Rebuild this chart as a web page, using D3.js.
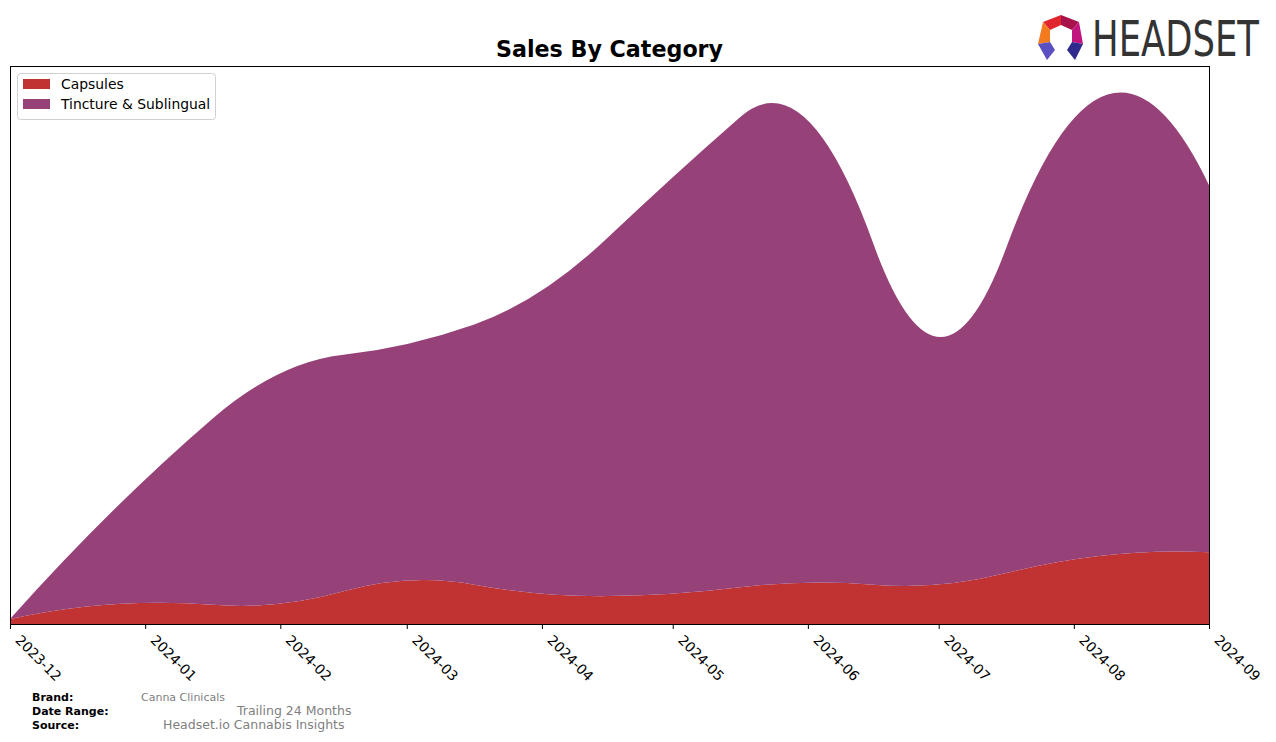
<!doctype html>
<html lang="en">
<head>
  <meta charset="utf-8">
  <title>Sales By Category</title>
  <style>
    body { margin: 0; background: #fff; }
    svg { display: block; font-family: "DejaVu Sans", sans-serif; }
  </style>
</head>
<body>
<div id="chart"></div>

<script src="https://cdnjs.cloudflare.com/ajax/libs/d3/7.8.5/d3.min.js"></script>
<script>

// data (no y axis shown, so units are arbitrary)
const months = ["2023-12", "2024-01", "2024-02", "2024-03", "2024-04", "2024-05", "2024-06", "2024-07", "2024-08", "2024-09"]
const capsules = [5, 21, 20, 43, 30, 30, 41, 39, 64, 71]
const tincture = [0, 122, 228, 234, 300, 412, 457, 245, 436, 363]
const categories = ["Capsules", "Tincture & Sublingual"]
const colors = ["#c13333", "#964178"]

const W = 1276, H = 742
const margin = { top: 66, right: 67, bottom: 118, left: 10 }
const w = W - margin.left - margin.right,
  h = H - margin.top - margin.bottom

const parse = d3.timeParse("%Y-%m")
const dates = months.map(parse)
const table = months.map((m, i) => ({ date: dates[i], "Capsules": capsules[i], "Tincture & Sublingual": tincture[i] }))

// small dense solver for the spline system
function solve(A, b) {
  const n = b.length
  A = A.map((r, i) => [...r, b[i]])
  for (let k = 0; k < n; k++) {
    let p = k
    for (let i = k + 1; i < n; i++) if (Math.abs(A[i][k]) > Math.abs(A[p][k])) p = i
    ;[A[k], A[p]] = [A[p], A[k]]
    for (let i = k + 1; i < n; i++) {
      const f = A[i][k] / A[k][k]
      for (let j = k; j <= n; j++) A[i][j] -= f * A[k][j]
    }
  }
  const x = new Array(n).fill(0)
  for (let i = n - 1; i >= 0; i--) {
    let s = A[i][n]
    for (let j = i + 1; j < n; j++) s -= A[i][j] * x[j]
    x[i] = s / A[i][i]
  }
  return x
}

// quadratic interpolating spline, knots at midpoints (like scipy make_interp_spline k=2)
function quadSpline(xs, ys) {
  const n = xs.length
  const mids = d3.pairs(xs, (a, b) => (a + b) / 2)
  const br = [xs[0], ...mids.slice(1, -1), xs[n - 1]]
  const m = br.length - 1
  const N = 3 * m
  const A = [], B = []
  const row = () => new Array(N).fill(0)
  const seg = x => Math.min(m - 1, Math.max(0, d3.bisectRight(br, x) - 1))
  xs.forEach((x, i) => {
    const j = seg(x), t = x - br[j], r = row()
    r[3 * j] = 1; r[3 * j + 1] = t; r[3 * j + 2] = t * t
    A.push(r); B.push(ys[i])
  })
  for (let j = 1; j < m; j++) {
    const d = br[j] - br[j - 1]
    let r = row()
    r[3 * (j - 1)] = 1; r[3 * (j - 1) + 1] = d; r[3 * (j - 1) + 2] = d * d; r[3 * j] = -1
    A.push(r); B.push(0)
    r = row()
    r[3 * (j - 1) + 1] = 1; r[3 * (j - 1) + 2] = 2 * d; r[3 * j + 1] = -1
    A.push(r); B.push(0)
  }
  const c = solve(A, B)
  const f = x => { const j = seg(x), t = x - br[j]; return c[3 * j] + c[3 * j + 1] * t + c[3 * j + 2] * t * t }
  return { br, c, f }
}

// d3 curve that draws the quadratic spline as quadratic beziers
function curveQuad(context) { return new QuadCurve(context) }
class QuadCurve {
  constructor(context) { this._context = context }
  areaStart() { this._line = 0 }
  areaEnd() { this._line = NaN }
  lineStart() { this._x = []; this._y = [] }
  point(x, y) { this._x.push(+x); this._y.push(+y) }
  lineEnd() {
    let xs = this._x, ys = this._y
    const n = xs.length, ctx = this._context
    if (n) {
      this._line ? ctx.lineTo(xs[0], ys[0]) : ctx.moveTo(xs[0], ys[0])
      if (n < 3) {
        for (let i = 1; i < n; i++) ctx.lineTo(xs[i], ys[i])
      } else {
        const rev = xs[0] > xs[n - 1]
        if (rev) { xs = xs.slice().reverse(); ys = ys.slice().reverse() }
        const s = quadSpline(xs, ys)
        let segs = d3.pairs(s.br).map(([a, b], j) => {
          const d = b - a, c0 = s.c[3 * j], c1 = s.c[3 * j + 1], c2 = s.c[3 * j + 2]
          return { a: [a, c0], ctl: [a + d / 2, c0 + c1 * d / 2], b: [b, c0 + c1 * d + c2 * d * d] }
        })
        if (rev) segs = segs.reverse().map(g => ({ a: g.b, ctl: g.ctl, b: g.a }))
        segs.forEach(g => ctx.quadraticCurveTo(g.ctl[0], g.ctl[1], g.b[0], g.b[1]))
      }
    }
    if (this._line || (this._line !== 0 && n === 1)) ctx.closePath()
    this._line = 1 - this._line
  }
}

const x = d3.scaleTime()
  .domain(d3.extent(dates))
  .range([0, w])

// matplotlib pads the top 5% above the smoothed peak
const totals = capsules.map((v, i) => v + tincture[i])
const fit = quadSpline(dates.map(x), totals)
const peak = d3.max(d3.range(0, w + 1, 1), px => fit.f(px))

const y = d3.scaleLinear()
  .domain([0, peak * 1.05])
  .range([h, 0])

const stack = d3.stack().keys(categories)
const series = stack(table)

const area = d3.area()
  .x(d => x(d.data.date))
  .y0(d => y(d[0]))
  .y1(d => y(d[1]))
  .curve(curveQuad)

const svg = d3.select("#chart").append("svg")
  .attr("width", W)
  .attr("height", H)

const g = svg.append("g")
  .attr("transform", "translate(" + margin.left + "," + margin.top + ")")

g.selectAll("path.layer")
  .data(series)
  .join("path")
    .attr("class", "layer")
    .attr("fill", (d, i) => colors[i])
    .attr("d", area)

// x axis
const xAxis = g.append("g")
  .attr("transform", "translate(0," + h + ")")
  .call(d3.axisBottom(x).tickValues(dates).tickFormat(d3.timeFormat("%Y-%m")).tickSize(5).tickPadding(0))

xAxis.select(".domain").remove()
xAxis.selectAll(".tick line").attr("stroke", "#000")
xAxis.selectAll(".tick text")
  .attr("fill", "#000")
  .attr("font-size", "13.9px")
  .attr("font-family", "DejaVu Sans")
  .attr("text-anchor", "start")
  .attr("y", 0)
  .attr("dy", 0)
  .attr("transform", "translate(4,17) rotate(45)")

// frame
g.append("rect")
  .attr("x", 0.5).attr("y", 0.5)
  .attr("width", w).attr("height", h)
  .attr("fill", "none")
  .attr("stroke", "#000")
  .attr("stroke-width", 1)

// title
svg.append("text")
  .attr("x", margin.left + w / 2)
  .attr("y", 57)
  .attr("text-anchor", "middle")
  .attr("font-size", "22.2px")
  .attr("font-weight", "bold")
  .text("Sales By Category")

// legend
const legend = g.append("g").attr("transform", "translate(7,7)")
legend.append("rect")
  .attr("x", 0.5).attr("y", 0.5)
  .attr("width", 198).attr("height", 46)
  .attr("rx", 3)
  .attr("fill", "#fff")
  .attr("fill-opacity", 0.8)
  .attr("stroke", "#d0d0d0")

categories.forEach((c, i) => {
  const row = legend.append("g").attr("transform", "translate(6," + (6 + i * 20) + ")")
  row.append("rect").attr("width", 27).attr("height", 10).attr("fill", colors[i])
  row.append("text")
    .attr("x", 38).attr("y", 10)
    .attr("font-size", "13.9px")
    .text(c)
})

// footer
const footer = [
  { label: "Brand:", value: "Canna Clinicals", vx: 141, size: 11, y: 701 },
  { label: "Date Range:", value: "Trailing 24 Months", vx: 237, size: 12.5, y: 715 },
  { label: "Source:", value: "Headset.io Cannabis Insights", vx: 163, size: 12.5, y: 729 }
]
footer.forEach(f => {
  svg.append("text")
    .attr("x", 32).attr("y", f.y)
    .attr("font-size", "11px")
    .attr("font-weight", "bold")
    .text(f.label)
  svg.append("text")
    .attr("x", f.vx).attr("y", f.y)
    .attr("font-size", f.size + "px")
    .attr("fill", "#808080")
    .text(f.value)
})

// headset logo
const logo = svg.append("g")
const shapes = [
  { c: "#e0262e", p: [[1043, 22], [1061, 15], [1061, 25], [1050, 30]] },
  { c: "#a8124a", p: [[1061, 15], [1079, 22], [1072, 30], [1061, 25]] },
  { c: "#f47a20", p: [[1043, 22], [1050, 30], [1050, 42], [1038, 44]] },
  { c: "#c2147e", p: [[1079, 22], [1083, 44], [1072, 42], [1072, 30]] },
  { c: "#5b4fc4", p: [[1038, 44], [1050, 42], [1055, 50], [1047, 60]] },
  { c: "#2f2a8c", p: [[1083, 44], [1072, 42], [1067, 50], [1075, 60]] }
]
shapes.forEach(s => logo.append("polygon")
  .attr("points", s.p.map(p => p.join(",")).join(" "))
  .attr("fill", s.c))
const word = logo.append("text")
  .attr("font-family", "'Liberation Sans Narrow', 'DejaVu Sans Condensed', sans-serif")
  .attr("font-size", "49px")
  .attr("fill", "#333")
  .text("HEADSET")
// squeeze the word to the logo's width with a transform instead of textLength
const natural = word.node().getComputedTextLength()
word.attr("transform", "translate(1092,56) scale(" + (167 / natural) + ",1)")

</script>
</body>
</html>
